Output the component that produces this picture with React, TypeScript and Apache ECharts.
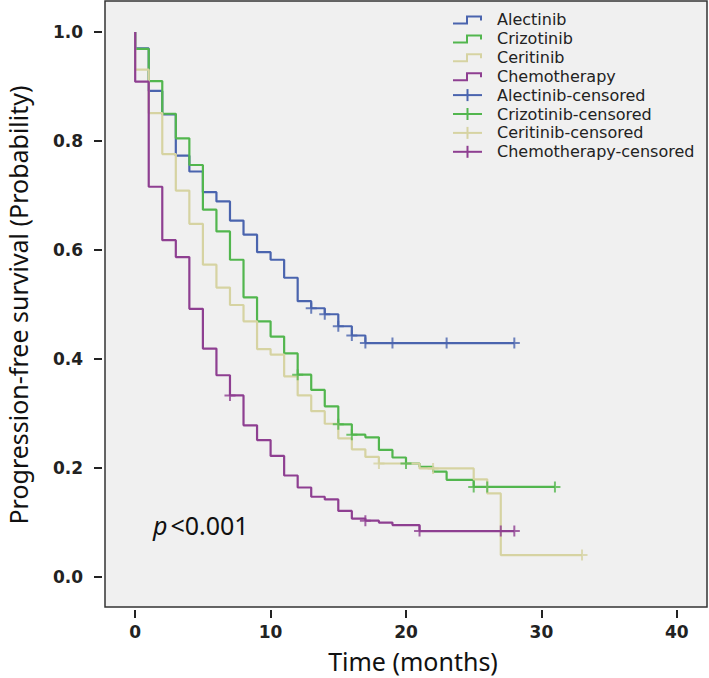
import React, { useEffect, useRef } from "react";
import * as echarts from "echarts";

const seriesNames = ["Alectinib", "Crizotinib", "Ceritinib", "Chemotherapy"];
const seriesColors = ["#4A64AE", "#52B64E", "#D6D3A2", "#8E3F91"];

const alectinibTimes = [0, 1, 2, 3, 4, 5, 6, 7, 8, 9, 10, 11, 12, 13, 14, 15, 16, 17];
const alectinibSurv = [0.97, 0.892, 0.849, 0.773, 0.744, 0.706, 0.689, 0.654, 0.628, 0.596, 0.582, 0.549, 0.506, 0.493, 0.482, 0.46, 0.443, 0.429];
const alectinibCensor = [13, 14, 15, 16, 17, 19, 23, 28];

const crizotinibTimes = [0, 1, 2, 3, 4, 5, 6, 7, 8, 9, 10, 11, 12, 13, 14, 15, 16, 17, 18, 19, 20, 21, 22, 23, 25];
const crizotinibSurv = [0.969, 0.91, 0.85, 0.805, 0.756, 0.674, 0.634, 0.582, 0.513, 0.469, 0.441, 0.41, 0.371, 0.343, 0.313, 0.28, 0.261, 0.256, 0.233, 0.219, 0.208, 0.202, 0.193, 0.178, 0.165];
const crizotinibCensor = [12, 15, 16, 20, 25, 26, 31];

const ceritinibTimes = [0, 1, 2, 3, 4, 5, 6, 7, 8, 9, 10, 11, 12, 13, 14, 15, 16, 17, 18, 21, 25, 26, 27];
const ceritinibSurv = [0.931, 0.851, 0.776, 0.709, 0.648, 0.573, 0.531, 0.499, 0.469, 0.418, 0.408, 0.368, 0.333, 0.304, 0.281, 0.254, 0.234, 0.22, 0.208, 0.199, 0.179, 0.153, 0.04];
const ceritinibCensor = [18, 22, 33];

const chemoTimes = [0, 1, 2, 3, 4, 5, 6, 7, 8, 9, 10, 11, 12, 13, 14, 15, 16, 17, 18, 19, 21];
const chemoSurv = [0.909, 0.716, 0.618, 0.587, 0.492, 0.419, 0.37, 0.333, 0.278, 0.251, 0.222, 0.186, 0.164, 0.147, 0.142, 0.121, 0.107, 0.103, 0.0995, 0.095, 0.084];
const chemoCensor = [7, 17, 21, 27, 28];

const xTicks = [0, 10, 20, 30, 40];
const yTicks = [0, 0.2, 0.4, 0.6, 0.8, 1.0];

const groups = [
  { times: alectinibTimes, surv: alectinibSurv, censor: alectinibCensor },
  { times: crizotinibTimes, surv: crizotinibSurv, censor: crizotinibCensor },
  { times: ceritinibTimes, surv: ceritinibSurv, censor: ceritinibCensor },
  { times: chemoTimes, surv: chemoSurv, censor: chemoCensor },
];

function stepPoints(times: number[], surv: number[], end: number) {
  const pts: number[][] = [[0, 1]];
  let prev = 1;
  for (let i = 0; i < times.length; i++) {
    pts.push([times[i], prev]);
    pts.push([times[i], surv[i]]);
    prev = surv[i];
  }
  pts.push([end, prev]);
  return pts;
}

function valueAt(times: number[], surv: number[], t: number) {
  let v = 1;
  for (let i = 0; i < times.length; i++) if (times[i] <= t) v = surv[i];
  return v;
}

export default function App() {
  const ref = useRef<HTMLDivElement>(null);
  useEffect(() => {
    document.body.style.margin = "0";
    const chart = echarts.init(ref.current!, null, { renderer: "svg" });
    const series: any[] = [];
    groups.forEach((g, i) => {
      const end = Math.max(g.times[g.times.length - 1], ...g.censor);
      series.push({
        type: "line",
        name: seriesNames[i],
        data: stepPoints(g.times, g.surv, end),
        showSymbol: false,
        lineStyle: { color: seriesColors[i], width: 2.2 },
        z: 2 + i,
      });
    });
    groups.forEach((g, i) => {
      series.push({
        type: "scatter",
        name: seriesNames[i] + "-censored",
        data: g.censor.map((t) => [t, valueAt(g.times, g.surv, t)]),
        symbol: "path://M0,6L12,6M6,0L6,12",
        symbolSize: 11,
        itemStyle: { color: "none", borderColor: seriesColors[i], borderWidth: 2 },
        z: 10 + i,
      });
    });

    const legendItems: any[] = [];
    const allNames = [...seriesNames, ...seriesNames.map((n) => n + "-censored")];
    allNames.forEach((name, i) => {
      const cy = 19.5 + 18.9 * i;
      const color = seriesColors[i % 4];
      if (i < 4) {
        legendItems.push({
          type: "polyline",
          shape: { points: [[453, cy + 4], [467, cy + 4], [467, cy - 3], [481, cy - 3], [481, cy + 1]] },
          style: { stroke: color, lineWidth: 2, fill: null },
        });
      } else {
        legendItems.push({
          type: "line",
          shape: { x1: 453, y1: cy, x2: 482, y2: cy },
          style: { stroke: color, lineWidth: 2 },
        });
        legendItems.push({
          type: "line",
          shape: { x1: 467.5, y1: cy - 6, x2: 467.5, y2: cy + 6 },
          style: { stroke: color, lineWidth: 2 },
        });
      }
      legendItems.push({
        type: "text",
        x: 497,
        y: cy,
        style: {
          text: name,
          fontFamily: "DejaVu Sans",
          fontSize: 16,
          lineHeight: 16,
          fill: "#222",
          verticalAlign: "middle",
          align: "left",
        },
      });
    });

    const tickLabel = {
      fontFamily: "DejaVu Sans",
      fontWeight: "bold",
      fontSize: 17,
      color: "#222",
    };

    const option: any = {
      animation: false,
      grid: {
        left: 105,
        right: 2,
        top: 1,
        bottom: 71,
        show: true,
        backgroundColor: "#F0F0F0",
        borderColor: "#333",
        borderWidth: 1.5,
      },
      xAxis: {
        type: "value",
        min: -2.23,
        max: 42.23,
        offset: 3,
        axisLine: { show: false, onZero: false },
        splitLine: { show: false },
        axisTick: { show: true, customValues: xTicks, length: 8, lineStyle: { color: "#222", width: 2 } },
        axisLabel: { customValues: xTicks, margin: 13, ...tickLabel },
      },
      yAxis: {
        type: "value",
        min: -0.0554,
        max: 1.057,
        offset: 3,
        axisLine: { show: false, onZero: false },
        splitLine: { show: false },
        axisTick: { show: true, customValues: yTicks, length: 8, lineStyle: { color: "#222", width: 2 } },
        axisLabel: {
          customValues: yTicks,
          margin: 19,
          ...tickLabel,
          formatter: (v: number) => v.toFixed(1),
        },
      },
      series,
      graphic: [
        ...legendItems,
        {
          type: "text",
          x: 153,
          y: 525,
          style: {
            text: "{i|p}{n|<0.001}",
            verticalAlign: "middle",
            rich: {
              i: { fontFamily: "Noto Sans", fontStyle: "italic", fontSize: 25, fill: "#111", padding: [0, 3, 0, 0] },
              n: { fontFamily: "Noto Sans", fontSize: 25, fill: "#111" },
            },
          },
        },
        {
          type: "text",
          x: 413,
          y: 661,
          style: {
            text: "Time (months)",
            fontFamily: "Noto Sans",
            fontSize: 25,
            lineHeight: 26,
            fill: "#111",
            align: "center",
            verticalAlign: "middle",
          },
        },
        {
          type: "text",
          x: 18,
          y: 305,
          rotation: Math.PI / 2,
          style: {
            text: "Progression-free survival (Probability)",
            fontFamily: "Noto Sans",
            fontSize: 25,
            fill: "#111",
            align: "center",
            verticalAlign: "middle",
          },
        },
      ],
    };
    chart.setOption(option);
    return () => chart.dispose();
  }, []);
  return <div ref={ref} style={{ width: 709, height: 678 }} />;
}
